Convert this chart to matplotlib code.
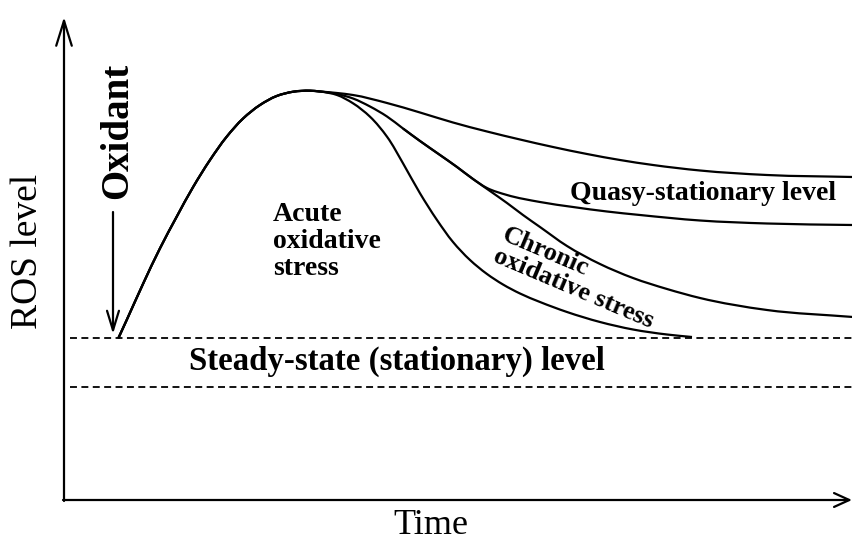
import numpy as np
import matplotlib
matplotlib.use("Agg")
import matplotlib.pyplot as plt
from matplotlib.path import Path
from matplotlib.patches import PathPatch, ArrowStyle

# ---- data (time units, ROS level units; origin at the axes corner) ----
rise_t   = [54.3, 62.7, 79.3, 96, 112.7, 129.3, 146, 162.7, 179.3, 196, 212.7, 229.3, 246, 256]
rise_ros = [161.7, 180, 216.7, 251.7, 283.3, 313.3, 340, 363.3, 381.7, 395, 404, 408.3, 409.3, 408.5]

acute_t   = [273, 289, 306, 323, 339, 356, 373, 389, 406, 423, 439, 456, 476, 503, 536, 569, 603, 628]
acute_ros = [405, 396.7, 383.3, 363.3, 336.7, 306.7, 280, 258, 240, 226, 215.5, 206.5, 198, 188, 178, 170.5, 165.5, 163]

chronic_t   = [273, 289, 306, 323, 339, 356, 376, 393, 409, 426, 443, 459, 476, 503, 536, 569, 603, 636, 703, 789]
chronic_ros = [406, 401.5, 393.5, 383.5, 371.5, 359, 345, 333, 321, 309, 297, 285, 273, 254, 236, 222, 211, 202, 190, 183]

quasy_hi_t   = [273, 289, 323, 356, 389, 423, 456, 489, 523, 556, 589, 636, 703, 789]
quasy_hi_ros = [407, 405, 397, 387.5, 377.5, 368.5, 360.5, 353, 346, 340, 335, 329.5, 325, 323]

quasy_lo_t   = [393, 409, 423, 443, 476, 509, 543, 576, 636, 703, 789]
quasy_lo_ros = [333, 321, 312, 305, 298, 293, 288.5, 285, 279.5, 276.5, 275]

steady_level = 162
base_level = 113

LW = 1.6

def smooth_path(xs, ys):
    """Smooth curve through the points (chord-length Catmull-Rom as cubic Beziers)."""
    P = np.column_stack([xs, ys]).astype(float)
    n = len(P)
    d = np.linalg.norm(np.diff(P, axis=0), axis=1)
    m = np.zeros_like(P)
    m[0] = (P[1] - P[0]) / d[0]
    m[-1] = (P[-1] - P[-2]) / d[-1]
    for i in range(1, n - 1):
        a = (P[i] - P[i - 1]) / d[i - 1]
        b = (P[i + 1] - P[i]) / d[i]
        m[i] = (a * d[i] + b * d[i - 1]) / (d[i - 1] + d[i])
    verts = [P[0]]
    codes = [Path.MOVETO]
    for i in range(n - 1):
        c1 = P[i] + m[i] * d[i] / 3.0
        c2 = P[i + 1] - m[i + 1] * d[i] / 3.0
        verts += [c1, c2, P[i + 1]]
        codes += [Path.CURVE4] * 3
    return Path(verts, codes)

plt.rcParams['font.family'] = ['Liberation Serif', 'DejaVu Serif']
plt.rcParams['lines.scale_dashes'] = False

fig = plt.figure(figsize=(8.53, 5.41), dpi=100)
ax = fig.add_axes([0, 0, 1, 1])
ax.set_xlim(-64, 789)
ax.set_ylim(-41, 500)
ax.axis('off')

# axes with open arrowheads
ax.annotate('', xy=(0, 483), xytext=(0, -1),
            arrowprops=dict(arrowstyle=ArrowStyle('->', head_length=18, head_width=5.6),
                            mutation_scale=1, lw=LW, color='black', shrinkA=0, shrinkB=0))
ax.annotate('', xy=(788, 0), xytext=(-1, 0),
            arrowprops=dict(arrowstyle=ArrowStyle('->', head_length=11, head_width=5),
                            mutation_scale=1, lw=LW, color='black', shrinkA=0, shrinkB=0))

# dashed levels
for lvl in (steady_level, base_level):
    ax.plot([6, 789], [lvl, lvl], color='black', lw=1.3, dashes=(5, 3.2))

# curves
curves = [
    (rise_t + acute_t, rise_ros + acute_ros),
    (rise_t + chronic_t, rise_ros + chronic_ros),
    (rise_t + quasy_hi_t, rise_ros + quasy_hi_ros),
    (chronic_t[4:7] + quasy_lo_t, chronic_ros[4:7] + quasy_lo_ros),
]
for xs, ys in curves:
    ax.add_patch(PathPatch(smooth_path(xs, ys), fill=False, lw=LW,
                           edgecolor='black', capstyle='butt', joinstyle='round'))

# oxidant arrow
ax.annotate('', xy=(49, 166), xytext=(49, 288),
            arrowprops=dict(arrowstyle=ArrowStyle('->', head_length=14, head_width=4.3),
                            mutation_scale=1, lw=LW, color='black', shrinkA=0, shrinkB=0))

# texts
ax.text(-36, 249, 'ROS level', rotation=90, fontsize=27, ha='center', va='center')
ax.text(367, -25, 'Time', fontsize=26, ha='center', va='center')
ax.text(54, 369, 'Oxidant', rotation=90, fontsize=28, fontweight='bold',
        ha='center', va='center')
ax.text(209, 298, 'Acute\noxidative\nstress', fontsize=20, fontweight='bold',
        ha='left', va='top', linespacing=1.1)
ax.text(639, 306, 'Quasy-stationary level', fontsize=20, fontweight='bold',
        ha='center', va='center')
ax.text(333, 139, 'Steady-state (stationary) level', fontsize=23.7, fontweight='bold',
        ha='center', va='center')
ax.text(514, 222, 'Chronic\noxidative stress', fontsize=19, fontweight='bold',
        ha='center', va='center', rotation=-23, rotation_mode='anchor',
        multialignment='left', linespacing=1.0)

fig.savefig('out.png', dpi=100)
